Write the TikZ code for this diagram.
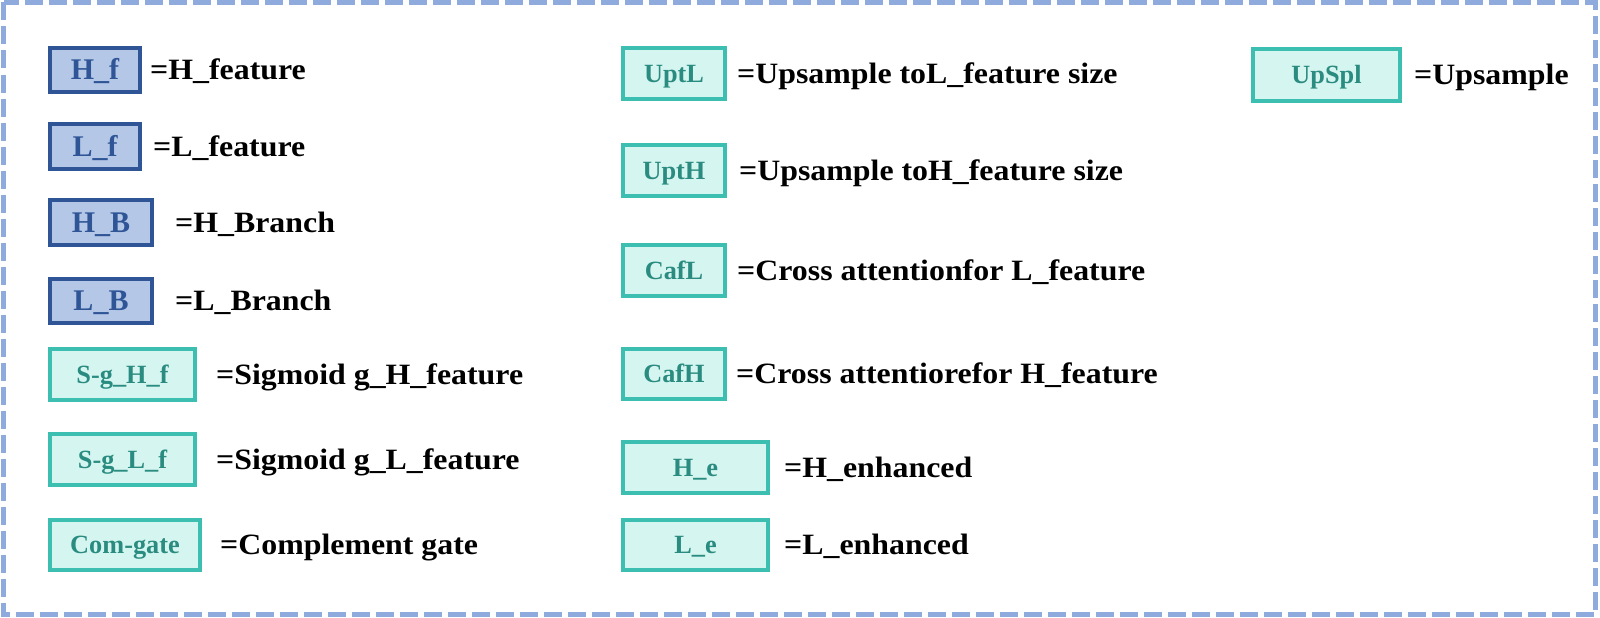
\documentclass[tikz,border=0pt]{standalone}
\usepackage{fontspec}
\setmainfont{Liberation Serif}
\newfontface\labelfont{Liberation Serif Bold}[FakeStretch=1.08]
\definecolor{frameblue}{HTML}{8FAADC}
\definecolor{bluefill}{HTML}{B4C7E7}
\definecolor{blueline}{HTML}{2F5597}
\definecolor{tealfill}{HTML}{D5F5F0}
\definecolor{tealline}{HTML}{3CBFB0}
\definecolor{tealtext}{HTML}{2A8C80}
\tikzset{
  bluebox/.style={draw=blueline, fill=bluefill, line width=4pt, inner sep=0pt,
    text=blueline, font=\fontsize{30}{32}\selectfont\bfseries,
    text height=19.8pt, text depth=0pt},
  tealbox/.style={draw=tealline, fill=tealfill, line width=4pt, inner sep=0pt,
    text=tealtext, font=\fontsize{26.3}{28}\selectfont\bfseries,
    text height=17.4pt, text depth=0pt},
  legtext/.style={anchor=west, inner sep=0pt, text=black,
    font=\fontsize{29.5}{32}\labelfont,
    text height=19.5pt, text depth=0pt},
}
\begin{document}
\begin{tikzpicture}[x=1pt,y=-1pt]
\useasboundingbox (0,0) rectangle (1600,618);
\draw[frameblue, line width=5pt, dash pattern=on 18pt off 6pt] (3.5,2.5) rectangle (1595,614.5);

% column 1
\node[bluebox, minimum width=90pt, minimum height=44pt] (hf) at (95,70) {H\_f};
\node[legtext] (hft) at (150,70) {=H\_feature};
\node[bluebox, minimum width=90pt, minimum height=45pt] (lf) at (95,146.5) {L\_f};
\node[legtext] (lft) at (153,146.5) {=L\_feature};
\node[bluebox, minimum width=102pt, minimum height=45pt] (hb) at (101,222.5) {H\_B};
\node[legtext] (hbt) at (175,222.5) {=H\_Branch};
\node[bluebox, minimum width=102pt, minimum height=44pt] (lb) at (101,301) {L\_B};
\node[legtext] (lbt) at (175,301) {=L\_Branch};
\node[tealbox, minimum width=145pt, minimum height=51pt] (sghf) at (122.5,374.5) {S-g\_H\_f};
\node[legtext] (sghft) at (216,374.5) {=Sigmoid g\_H\_feature};
\node[tealbox, minimum width=145pt, minimum height=51pt] (sglf) at (122.5,459.5) {S-g\_L\_f};
\node[legtext] (sglft) at (216,459.5) {=Sigmoid g\_L\_feature};
\node[tealbox, minimum width=150pt, minimum height=50pt] (comg) at (125,545) {Com-gate};
\node[legtext] (comgt) at (220,545) {=Complement gate};

% column 2
\node[tealbox, minimum width=102pt, minimum height=51pt] (uptl) at (674,73.5) {UptL};
\node[legtext] (uptlt) at (737,73.5) {=Upsample toL\_feature size};
\node[tealbox, minimum width=102pt, minimum height=51pt] (upth) at (674,170.5) {UptH};
\node[legtext] (uptht) at (739,170.5) {=Upsample toH\_feature size};
\node[tealbox, minimum width=102pt, minimum height=51pt] (cafl) at (674,270.5) {CafL};
\node[legtext] (caflt) at (737,270.5) {=Cross attentionfor L\_feature};
\node[tealbox, minimum width=102pt, minimum height=50pt] (cafh) at (674,374) {CafH};
\node[legtext] (cafht) at (736,374) {=Cross attentiorefor H\_feature};
\node[tealbox, minimum width=145pt, minimum height=51pt] (he) at (695.5,467.5) {H\_e};
\node[legtext] (het) at (784,467.5) {=H\_enhanced};
\node[tealbox, minimum width=145pt, minimum height=50pt] (le) at (695.5,545) {L\_e};
\node[legtext] (let) at (784,545) {=L\_enhanced};

% column 3
\node[tealbox, minimum width=147pt, minimum height=52pt] (upspl) at (1326.5,75) {UpSpl};
\node[legtext] (upsplt) at (1414,75) {=Upsample};
\end{tikzpicture}
\end{document}
